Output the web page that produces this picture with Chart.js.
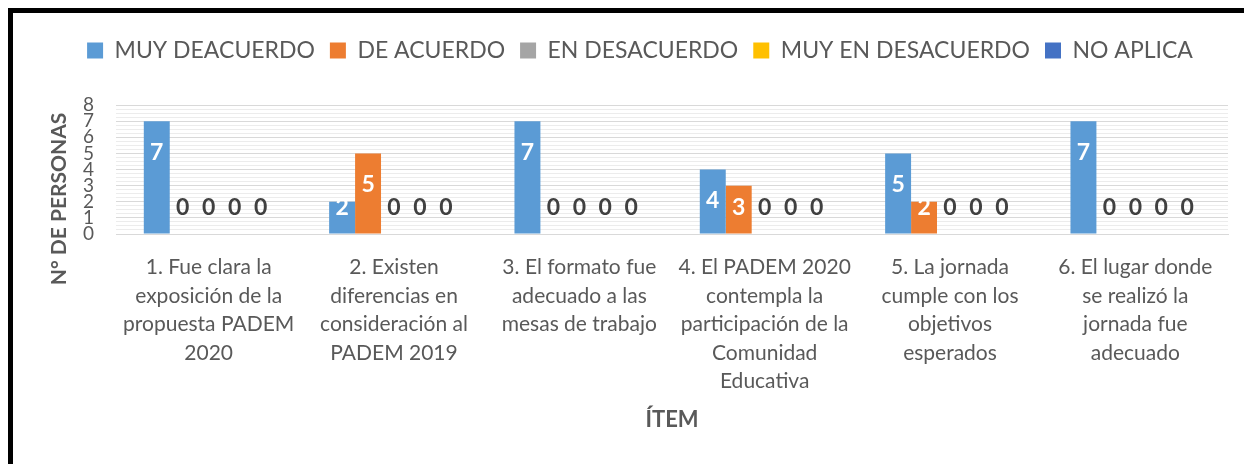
<!DOCTYPE html>
<html lang="es">
<head>
<meta charset="utf-8">
<title>Evaluación jornada PADEM 2020</title>
<script src="https://cdn.jsdelivr.net/npm/chart.js@4/dist/chart.umd.min.js"></script>
<style>
  html, body { margin: 0; padding: 0; background: #fff; overflow: hidden; }
  #wrap { width: 1280px; height: 464px; }
</style>
</head>
<body>
<div id="wrap"><canvas id="encuestaChart" width="1280" height="464"></canvas></div>
<script>
// Ítems evaluados
const items = [
    ["1. Fue clara la", "exposición de la", "propuesta PADEM", "2020"],
    ["2. Existen", "diferencias en", "consideración al", "PADEM 2019"],
    ["3. El formato fue", "adecuado a las", "mesas de trabajo"],
    ["4. El PADEM 2020", "contempla la", "participación de la", "Comunidad", "Educativa"],
    ["5. La jornada", "cumple con los", "objetivos", "esperados"],
    ["6. El lugar donde", "se realizó la", "jornada fue", "adecuado"]
];

// Respuestas por opción
const muyDeacuerdo    = [7, 2, 7, 4, 5, 7];
const deAcuerdo       = [0, 5, 0, 3, 2, 0];
const enDesacuerdo    = [0, 0, 0, 0, 0, 0];
const muyEnDesacuerdo = [0, 0, 0, 0, 0, 0];
const noAplica        = [0, 0, 0, 0, 0, 0];

const yTickLabels = [0, 1, 2, 3, 4, 5, 6, 7, 8];

const FUENTE = "Lato, 'Open Sans', sans-serif";
const GRIS_TEXTO = "#595959";

// Fondo blanco y marco negro
const marco = {
    id: "marco",
    beforeDraw(chart) {
        const ctx = chart.ctx;
        ctx.save();
        ctx.fillStyle = "#ffffff";
        ctx.fillRect(0, 0, chart.width, chart.height);
        ctx.fillStyle = "#000000";
        ctx.fillRect(8, 8, chart.width - 8, 5);
        ctx.fillRect(8, 8, 5, chart.height - 8);
        ctx.restore();
    }
};

// Más espacio bajo la leyenda
const espacioLeyenda = {
    id: "espacioLeyenda",
    afterInit(chart) {
        const fitOriginal = chart.legend.fit;
        chart.legend.fit = function () {
            fitOriginal.call(this);
            this.height += 33;
        };
    }
};

// Etiquetas de valor sobre cada barra
const etiquetasValor = {
    id: "etiquetasValor",
    afterDatasetsDraw(chart) {
        const ctx = chart.ctx;
        ctx.save();
        ctx.font = "bold 23px " + FUENTE;
        ctx.textAlign = "center";
        ctx.textBaseline = "middle";
        chart.data.datasets.forEach((ds, i) => {
            const meta = chart.getDatasetMeta(i);
            meta.data.forEach((bar, j) => {
                const valor = ds.data[j];
                const y = Math.min(bar.y + 31, bar.base - 26);
                ctx.fillStyle = valor > 0 ? "#ffffff" : "#404040";
                ctx.fillText(String(valor), bar.x, y);
            });
        });
        ctx.restore();
    }
};

// Título del eje Y
const tituloEjeY = {
    id: "tituloEjeY",
    afterDraw(chart) {
        const ctx = chart.ctx;
        const area = chart.chartArea;
        ctx.save();
        ctx.translate(area.left - 57, area.bottom - 35);
        ctx.rotate(-Math.PI / 2);
        ctx.font = "bold 21px " + FUENTE;
        ctx.fillStyle = GRIS_TEXTO;
        ctx.textAlign = "center";
        ctx.textBaseline = "middle";
        ctx.fillText("N° DE PERSONAS", 0, 0);
        ctx.restore();
    }
};

function renderEncuestaChart() {
    const ctx = document.getElementById("encuestaChart").getContext("2d");

    new Chart(ctx, {
        type: "bar",
        data: {
            labels: items,
            datasets: [
                { label: "MUY DEACUERDO", data: muyDeacuerdo, backgroundColor: "#5B9BD5" },
                { label: "DE ACUERDO", data: deAcuerdo, backgroundColor: "#ED7D31" },
                { label: "EN DESACUERDO", data: enDesacuerdo, backgroundColor: "#A5A5A5" },
                { label: "MUY EN DESACUERDO", data: muyEnDesacuerdo, backgroundColor: "#FFC000" },
                { label: "NO APLICA", data: noAplica, backgroundColor: "#4472C4" }
            ]
        },
        options: {
            responsive: false,
            animation: false,
            categoryPercentage: 0.7,
            barPercentage: 1.0,
            layout: {
                padding: { top: 24, left: 52, right: 52, bottom: 0 }
            },
            plugins: {
                legend: {
                    position: "top",
                    labels: {
                        boxWidth: 16,
                        boxHeight: 16,
                        padding: 15,
                        color: GRIS_TEXTO,
                        font: { family: FUENTE, size: 23 }
                    }
                },
                tooltip: { enabled: false }
            },
            scales: {
                x: {
                    grid: { display: false, drawTicks: false },
                    border: { color: "#d9d9d9" },
                    ticks: {
                        color: GRIS_TEXTO,
                        padding: 19,
                        autoSkip: false,
                        maxRotation: 0,
                        font: { family: FUENTE, size: 21, lineHeight: 1.36 }
                    },
                    title: {
                        display: true,
                        text: "ÍTEM",
                        color: GRIS_TEXTO,
                        font: { family: FUENTE, size: 22, weight: "bold" },
                        padding: { top: 0, bottom: 31 }
                    },
                    afterFit(scale) { scale.height = 230; }
                },
                y: {
                    min: 0,
                    max: 8,
                    grid: {
                        drawTicks: false,
                        color: c => Number.isInteger(c.tick.value) ? "#d9d9d9" : "#ececec"
                    },
                    border: { display: false },
                    ticks: {
                        stepSize: 0.25,
                        autoSkip: false,
                        padding: 22,
                        color: GRIS_TEXTO,
                        font: { family: FUENTE, size: 19 },
                        callback: v => yTickLabels.includes(v) ? String(v) : ""
                    },
                    afterFit(scale) { scale.width = 64; }
                }
            }
        },
        plugins: [marco, espacioLeyenda, etiquetasValor, tituloEjeY]
    });
}

document.addEventListener("DOMContentLoaded", renderEncuestaChart);
</script>
</body>
</html>
